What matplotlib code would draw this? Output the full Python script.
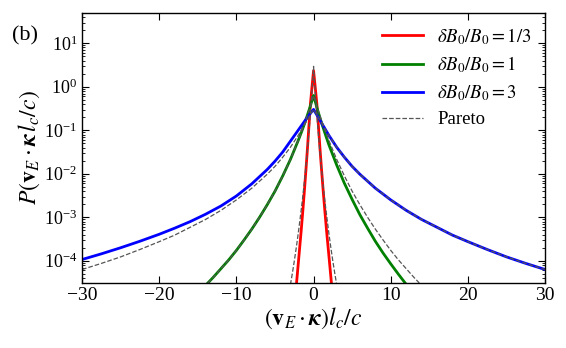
import numpy as np
import matplotlib
matplotlib.use("Agg")
import matplotlib.pyplot as plt
from matplotlib.ticker import LogLocator, MultipleLocator, NullFormatter

plt.rcParams['font.family'] = ['Liberation Serif', 'DejaVu Serif']
plt.rcParams['mathtext.fontset'] = 'stix'

# values, stored as log10(P)
# dB0/B0 = 1/3
x_red = [-2.25, -2.0, -1.8, -1.6, -1.4, -1.2, -1.0, -0.8, -0.6, -0.4, -0.2, 0.0,
         0.21, 0.42, 0.63, 0.84, 1.05, 1.26, 1.47, 1.68, 1.89, 2.1, 2.36]
lp_red = [-4.6, -4.1, -3.7, -3.3, -2.87, -2.42, -1.94, -1.44, -0.9, -0.38, 0.0, 0.37,
          0.0, -0.38, -0.9, -1.44, -1.94, -2.42, -2.87, -3.3, -3.7, -4.1, -4.6]
x_red_p = [-3.0, -2.75, -2.5, -2.25, -2.0, -1.75, -1.5, -1.25, -1.0, -0.75, -0.5, -0.25, 0.0,
           0.25, 0.5, 0.75, 1.0, 1.25, 1.5, 1.75, 2.0, 2.25, 2.5, 2.75, 3.0]
lp_red_p = [-4.55, -4.29, -4.01, -3.71, -3.39, -3.04, -2.68, -2.28, -1.84, -1.36, -0.82, -0.22, 0.47,
            -0.22, -0.82, -1.36, -1.84, -2.28, -2.68, -3.04, -3.39, -3.71, -4.01, -4.29, -4.55]

# dB0/B0 = 1
x_green = [-13.7, -13, -12, -11, -10, -9, -8, -7, -6, -5, -4, -3, -2, -1.5, -1, -0.5, 0,
           0.5, 1, 1.5, 2, 3, 4, 5, 6, 7, 8, 9, 10, 11, 12]
lp_green = [-4.51, -4.38, -4.18, -3.98, -3.76, -3.52, -3.27, -3.0, -2.71, -2.4, -2.05, -1.67, -1.24, -1.01, -0.76, -0.49, -0.2,
            -0.52, -0.81, -1.08, -1.34, -1.8, -2.22, -2.59, -2.94, -3.25, -3.55, -3.82, -4.07, -4.31, -4.54]
x_green_p = [-13.7, -13, -12, -11, -10, -9, -8, -7, -6, -5, -4, -3, -2, -1.5, -1, -0.5, 0,
             0.5, 1, 1.5, 2, 3, 4, 5, 6, 7, 8, 9, 10, 11, 12, 13, 13.7]
lp_green_p = [-4.51, -4.38, -4.18, -3.98, -3.76, -3.52, -3.27, -3.0, -2.71, -2.4, -2.05, -1.67, -1.24, -1.01, -0.76, -0.49, -0.2,
              -0.49, -0.76, -1.01, -1.24, -1.67, -2.05, -2.4, -2.71, -3.0, -3.27, -3.52, -3.76, -3.98, -4.18, -4.38, -4.51]

# dB0/B0 = 3
x_blue = [-30, -27.5, -25, -22.5, -20, -18, -16, -14, -12, -10, -8, -6, -5, -4, -3, -2, -1, -0.5, 0,
          0.5, 1, 2, 3, 4, 5, 6, 8, 10, 12, 14, 16, 18, 20, 22.5, 25, 27.5, 30]
lp_blue = [-3.97, -3.84, -3.7, -3.55, -3.39, -3.25, -3.1, -2.93, -2.74, -2.51, -2.23, -1.9, -1.71, -1.5, -1.25, -1.0, -0.75, -0.63, -0.52,
           -0.67, -0.82, -1.12, -1.39, -1.62, -1.83, -2.01, -2.33, -2.6, -2.84, -3.05, -3.23, -3.41, -3.56, -3.74, -3.91, -4.06, -4.2]
x_blue_p = [-30, -27.5, -25, -22.5, -20, -18, -16, -14, -12, -10, -8, -6, -5, -4, -3, -2, -1, -0.5, 0,
            0.5, 1, 2, 3, 4, 5, 6, 8, 10, 12, 14, 16, 18, 20, 22.5, 25, 27.5, 30]
lp_blue_p = [-4.2, -4.06, -3.91, -3.74, -3.56, -3.41, -3.23, -3.05, -2.84, -2.6, -2.33, -2.01, -1.83, -1.62, -1.39, -1.12, -0.82, -0.67, -0.52,
             -0.67, -0.82, -1.12, -1.39, -1.62, -1.83, -2.01, -2.33, -2.6, -2.84, -3.05, -3.23, -3.41, -3.56, -3.74, -3.91, -4.06, -4.2]

labels = [r'$\delta B_0/B_0=1/3$', r'$\delta B_0/B_0=1$', r'$\delta B_0/B_0=3$', 'Pareto']

fig = plt.figure(figsize=(5.66, 3.48), dpi=100)
ax = fig.add_axes([0.145, 0.187, 0.818, 0.776])

lw = 2.0
ax.plot(x_red, 10.0 ** np.array(lp_red), color='red', lw=lw, label=labels[0])
ax.plot(x_green, 10.0 ** np.array(lp_green), color='green', lw=lw, label=labels[1])
ax.plot(x_blue, 10.0 ** np.array(lp_blue), color='blue', lw=lw, label=labels[2])
ax.plot(x_red_p, 10.0 ** np.array(lp_red_p), color='#555555', ls='--', lw=0.9, label=labels[3])
ax.plot(x_green_p, 10.0 ** np.array(lp_green_p), color='#555555', ls='--', lw=0.9)
ax.plot(x_blue_p, 10.0 ** np.array(lp_blue_p), color='#555555', ls='--', lw=0.9)

ax.set_yscale('log')
ax.set_xlim(-30, 30)
ax.set_ylim(3.1e-5, 50)
ax.xaxis.set_major_locator(MultipleLocator(10))
ax.yaxis.set_major_locator(LogLocator(base=10, numticks=20))
ax.yaxis.set_minor_locator(LogLocator(base=10, subs=np.arange(2, 10), numticks=20))
ax.yaxis.set_minor_formatter(NullFormatter())
ax.tick_params(which='both', direction='in', top=True, right=True)
ax.tick_params(axis='x', labelsize=14, pad=3)
ax.tick_params(axis='y', labelsize=13)
ax.tick_params(which='major', length=5, width=0.8)
ax.tick_params(which='minor', length=2.5, width=0.6)
for s in ax.spines.values():
    s.set_linewidth(1.0)

ax.set_xlabel(r'$(\mathbf{v}_E\cdot\boldsymbol{\kappa})l_c/c$', fontsize=17, labelpad=1)
ax.set_ylabel(r'$P(\mathbf{v}_E\cdot\boldsymbol{\kappa}\,l_c/c)$', fontsize=17, labelpad=1)

ax.legend(loc='upper right', frameon=False, fontsize=13.5, handlelength=2.2,
          borderaxespad=0.3, labelspacing=0.43, handletextpad=0.75)
fig.text(0.022, 0.885, '(b)', fontsize=16)

fig.savefig('out.png', dpi=100)
